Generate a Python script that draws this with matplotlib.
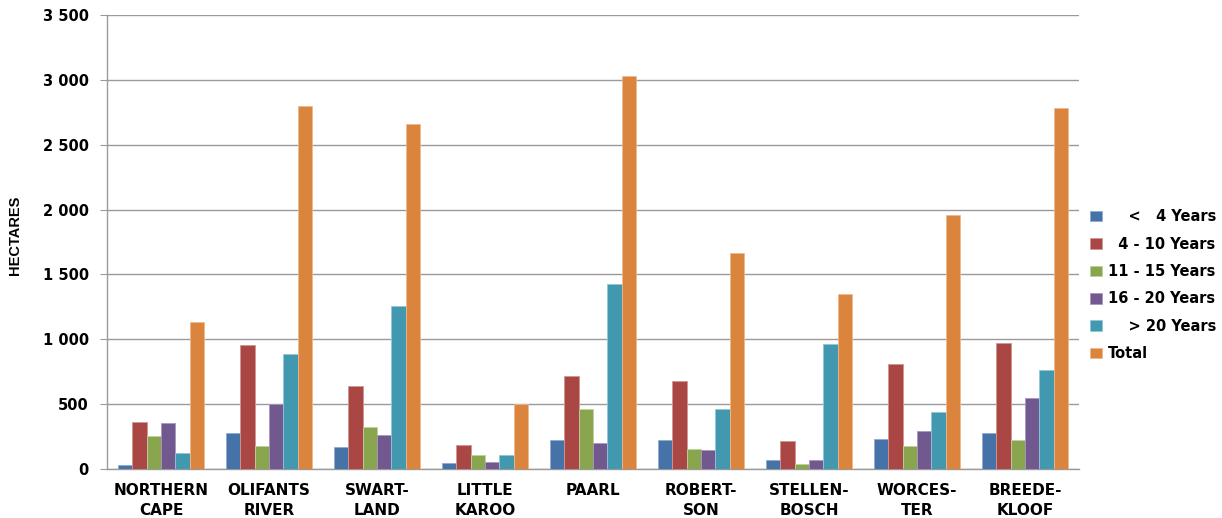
import matplotlib
matplotlib.use("Agg")
import matplotlib.pyplot as plt
import numpy as np
from matplotlib.ticker import FuncFormatter, MultipleLocator

regions = ["NORTHERN\nCAPE", "OLIFANTS\nRIVER", "SWART-\nLAND", "LITTLE\nKAROO", "PAARL",
           "ROBERT-\nSON", "STELLEN-\nBOSCH", "WORCES-\nTER", "BREEDE-\nKLOOF"]

lt_4 = [33, 278, 172, 49, 221, 224, 69, 229, 275]
y4_10 = [363, 955, 641, 185, 720, 679, 216, 813, 970]
y11_15 = [252, 180, 324, 108, 461, 154, 36, 178, 224]
y16_20 = [355, 502, 265, 57, 203, 144, 69, 293, 548]
gt_20 = [124, 885, 1253, 105, 1423, 466, 965, 443, 764]
total = [1130, 2802, 2656, 502, 3026, 1668, 1351, 1958, 2784]

series = [lt_4, y4_10, y11_15, y16_20, gt_20, total]
labels = ["    <   4 Years", "  4 - 10 Years", "11 - 15 Years", "16 - 20 Years", "    > 20 Years", "Total"]
colors = ["#4572A7", "#AA4643", "#89A54E", "#71588F", "#4198AF", "#DB843D"]
edges = ["#8FAAD0", "#D09593", "#BFD39D", "#A897C0", "#8EC8D8", "#F0B78A"]

fig = plt.figure(figsize=(12.22, 5.18), dpi=100)
ax = fig.add_axes([107 / 1222, 1 - 469 / 518, 972 / 1222, 454 / 518])

x = np.arange(len(regions))
w = 0.8 / 6
for i, (vals, lab, c, ec) in enumerate(zip(series, labels, colors, edges)):
    ax.bar(x - 0.4 + w * (i + 0.5), vals, width=w, color=c, edgecolor=ec,
           linewidth=0.6, label=lab, zorder=3)

ax.set_xlim(-0.5, len(regions) - 0.5)
ax.set_ylim(0, 3500)
ax.yaxis.set_major_locator(MultipleLocator(500))
ax.yaxis.set_major_formatter(FuncFormatter(lambda v, p: f"{int(v):,}".replace(",", " ")))
ax.grid(axis="y", color="#9a9a9a", linewidth=1.0, zorder=0)
ax.set_axisbelow(True)

for s in ["top", "right"]:
    ax.spines[s].set_visible(False)
for s in ["left", "bottom"]:
    ax.spines[s].set_color("#9a9a9a")
    ax.spines[s].set_linewidth(1.0)

ax.tick_params(axis="y", length=5, color="#9a9a9a", pad=8)
ax.tick_params(axis="x", length=0, pad=10)
ax.set_xticks(x)
ax.set_xticklabels(regions, fontsize=11, fontweight="bold", linespacing=1.45)
for t in ax.get_yticklabels():
    t.set_fontsize(10.5)
    t.set_fontweight("bold")

ax.set_ylabel("HECTARES", fontsize=10.5, fontweight="bold",
              family=["Liberation Sans Narrow", "Liberation Sans"])
ax.yaxis.set_label_coords(-0.087, 0.515)

leg = ax.legend(loc="center left", bbox_to_anchor=(1.0, 0.405), frameon=False,
                prop={"weight": "bold", "size": 10.5}, handlelength=0.85, handleheight=0.75,
                labelspacing=0.85, handletextpad=0.4, borderaxespad=0.35)

fig.savefig("out.png", dpi=100)
